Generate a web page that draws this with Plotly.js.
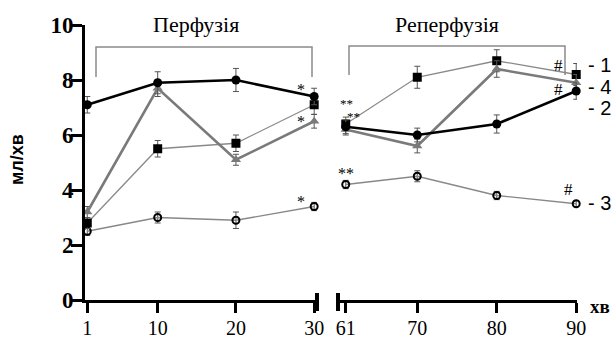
<!DOCTYPE html>
<html><head><meta charset="utf-8">
<script src="https://cdn.plot.ly/plotly-3.0.1.min.js"></script>
<style>html,body{margin:0;padding:0;background:#fff}#chart{width:615px;height:342px}</style>
</head><body><div id="chart"></div>
<script>
// Time points (min)
const perfusionTimes = [1, 10, 20, 30];
const reperfusionTimes = [61, 70, 80, 90];
const yTicks = [0, 2, 4, 6, 8, 10];

// Series 1 (squares)
const s1Perf = [2.8, 5.5, 5.7, 7.1];
const s1PerfErr = [0.2, 0.3, 0.3, 0.35];
const s1Rep = [6.4, 8.1, 8.7, 8.2];
const s1RepErr = [0.25, 0.4, 0.4, 0.4];
// Series 2 (filled circles)
const s2Perf = [7.1, 7.9, 8.0, 7.4];
const s2PerfErr = [0.3, 0.4, 0.42, 0.3];
const s2Rep = [6.3, 6.0, 6.4, 7.6];
const s2RepErr = [0.25, 0.25, 0.33, 0.3];
// Series 3 (open circles)
const s3Perf = [2.5, 3.0, 2.9, 3.4];
const s3PerfErr = [0.15, 0.2, 0.3, 0.15];
const s3Rep = [4.2, 4.5, 3.8, 3.5];
const s3RepErr = [0.15, 0.2, 0.15, 0.1];
// Series 4 (triangles)
const s4Perf = [3.2, 7.7, 5.1, 6.5];
const s4PerfErr = [0.2, 0.3, 0.2, 0.25];
const s4Rep = [6.2, 5.6, 8.4, 7.9];
const s4RepErr = [0.2, 0.25, 0.3, 0.3];

const W = 615, H = 342;
const px = x => x / W, py = y => 1 - y / H;

const styles = {
  s1: {line: {color: '#8a8a8a', width: 1.3}, marker: {symbol: 'square', size: 9, color: '#000'}},
  s2: {line: {color: '#000', width: 2.6}, marker: {symbol: 'circle', size: 9, color: '#000'}},
  s3: {line: {color: '#888', width: 1.3}, marker: {symbol: 'circle-open', size: 7, color: '#000', line: {width: 2, color: '#000'}}},
  s4: {line: {color: '#7a7a7a', width: 2.6}, marker: {symbol: 'triangle-up', size: 9, color: '#7a7a7a'}}
};

function tr(xs, ys, err, st, xa) {
  return {
    x: xs, y: ys, type: 'scatter', mode: 'lines+markers', xaxis: xa, yaxis: 'y',
    line: st.line, marker: st.marker, cliponaxis: false, showlegend: false,
    error_y: {type: 'data', array: err, visible: true, color: '#555', thickness: 1, width: 3}
  };
}

const data = [
  tr(perfusionTimes, s3Perf, s3PerfErr, styles.s3, 'x'),
  tr(reperfusionTimes, s3Rep, s3RepErr, styles.s3, 'x2'),
  tr(perfusionTimes, s1Perf, s1PerfErr, styles.s1, 'x'),
  tr(reperfusionTimes, s1Rep, s1RepErr, styles.s1, 'x2'),
  tr(perfusionTimes, s4Perf, s4PerfErr, styles.s4, 'x'),
  tr(reperfusionTimes, s4Rep, s4RepErr, styles.s4, 'x2'),
  tr(perfusionTimes, s2Perf, s2PerfErr, styles.s2, 'x'),
  tr(reperfusionTimes, s2Rep, s2RepErr, styles.s2, 'x2')
];

const SERIF = 'Liberation Serif';
const SANS = 'Liberation Sans';
const serifSpan = t => `<span style="font-family:Liberation Serif">${t}</span>`;
const xCommon = {
  showline: true, linewidth: 3, linecolor: '#000', ticks: 'outside', ticklen: 10, tickwidth: 3,
  tickcolor: '#000', showgrid: false, zeroline: false, anchor: 'y',
  tickfont: {family: SERIF, size: 20, color: '#000'}, tickmode: 'array', ticklabelstandoff: -2
};

const ann = (x, y, text, size, family, extra) => Object.assign({
  xref: 'paper', yref: 'paper', x: px(x), y: py(y), text: text, showarrow: false,
  xanchor: 'center', yanchor: 'middle',
  font: {family: family, size: size, color: '#000'}
}, extra || {});

const layout = {
  width: W, height: H, margin: {l: 0, r: 0, t: 0, b: 0},
  paper_bgcolor: '#fff', plot_bgcolor: '#fff',
  font: {family: SERIF, color: '#000'},
  xaxis: Object.assign({}, xCommon, {domain: [px(85), px(317)], range: [0.71, 30.36],
    tickvals: perfusionTimes, ticktext: perfusionTimes.map(v => serifSpan(v))}),
  xaxis2: Object.assign({}, xCommon, {domain: [px(337), px(577)], range: [59.9, 90.1],
    tickvals: reperfusionTimes, ticktext: reperfusionTimes.map(v => serifSpan(v))}),
  yaxis: {
    domain: [py(300), py(25)], range: [0, 10], anchor: 'x', showline: true, linewidth: 3, linecolor: '#000',
    ticks: 'outside', ticklen: 11, tickwidth: 3, tickcolor: '#000', showgrid: false, zeroline: false,
    tickmode: 'array', tickvals: yTicks, ticktext: yTicks.map(v => serifSpan('<b>' + v + '</b>')),
    tickfont: {family: SERIF, size: 23, color: '#000'}, ticklabelstandoff: -7
  },
  shapes: [
    // brackets
    {type: 'path', xref: 'paper', yref: 'paper',
     path: `M ${px(96)} ${py(77)} L ${px(96)} ${py(47)} L ${px(312)} ${py(47)} L ${px(312)} ${py(77)}`,
     line: {color: '#8a8a8a', width: 1.5}},
    {type: 'path', xref: 'paper', yref: 'paper',
     path: `M ${px(349)} ${py(75)} L ${px(349)} ${py(46)} L ${px(565)} ${py(46)} L ${px(565)} ${py(75)}`,
     line: {color: '#8a8a8a', width: 1.5}},
    // axis break marks
    {type: 'line', xref: 'paper', yref: 'paper', x0: px(317), x1: px(317), y0: py(293), y1: py(311), line: {color: '#000', width: 4}},
    {type: 'line', xref: 'paper', yref: 'paper', x0: px(338), x1: px(338), y0: py(293), y1: py(311), line: {color: '#000', width: 4}}
  ],
  annotations: [
    ann(196, 25, 'Перфузія', 22, SERIF),
    ann(447, 25, 'Реперфузія', 22, SERIF),
    ann(600, 306, '<b>хв</b>', 19, SERIF),
    ann(17, 160, '<b>мл/хв</b>', 18, SANS, {textangle: -90}),
    ann(586, 65, '- 1', 20, SANS, {xanchor: 'left'}),
    ann(586, 87, '- 4', 20, SANS, {xanchor: 'left'}),
    ann(586, 108, '- 2', 20, SANS, {xanchor: 'left'}),
    ann(586, 203, '- 3', 20, SANS, {xanchor: 'left'}),
    ann(301, 90, '*', 16, SERIF),
    ann(301, 122, '*', 16, SERIF),
    ann(301, 201, '*', 16, SERIF),
    ann(346, 103, '**', 13, SERIF),
    ann(353, 116, '**', 13, SERIF),
    ann(346, 173, '**', 16, SERIF),
    ann(558, 66, '#', 17, SERIF),
    ann(558, 89, '#', 17, SERIF),
    ann(568, 189, '#', 17, SERIF)
  ]
};

Plotly.newPlot('chart', data, layout, {displayModeBar: false, staticPlot: true});
</script></body></html>
